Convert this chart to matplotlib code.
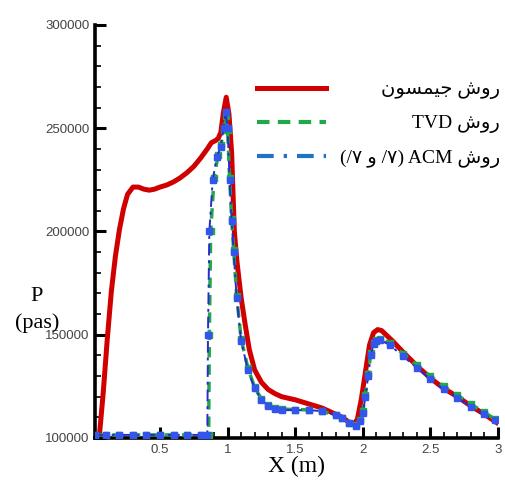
import matplotlib
matplotlib.use('Agg')
import matplotlib.pyplot as plt
from matplotlib.lines import Line2D
from matplotlib.ticker import MultipleLocator, FormatStrFormatter

# Jameson scheme (red)
x_jam = [0.05, 0.08, 0.11, 0.14, 0.17, 0.2, 0.23, 0.26, 0.3, 0.34, 0.38, 0.42,
         0.46, 0.5, 0.55, 0.6, 0.65, 0.7, 0.75, 0.8, 0.85, 0.88, 0.91, 0.93,
         0.95, 0.97, 0.99, 1.01, 1.03, 1.05, 1.07, 1.1, 1.13, 1.16, 1.2, 1.25,
         1.3, 1.35, 1.4, 1.5, 1.6, 1.7, 1.8, 1.85, 1.9, 1.93, 1.96, 1.99, 2.02,
         2.05, 2.08, 2.11, 2.14, 2.18, 2.22, 2.3, 2.4, 2.5, 2.6, 2.7, 2.8, 2.9,
         2.99]
p_jam = [100000, 122000, 148000, 171000, 188000, 201000, 211000, 218000, 221500,
         221500, 220500, 220000, 220500, 221500, 222500, 224000, 226000, 228500,
         231500, 235500, 240000, 243000, 244000, 245000, 248000, 258000, 265000,
         257000, 238000, 200000, 185000, 168000, 155000, 143000, 133000, 127000,
         123500, 121500, 120000, 118500, 116500, 114500, 111500, 110000, 107500,
         106500, 109000, 119000, 132000, 145000, 151000, 152500, 152000, 149500,
         147000, 141500, 135000, 129000, 124000, 120000, 115500, 111500, 107500]

# ACM scheme (blue)
x_acm = [0.02, 0.1, 0.2, 0.3, 0.4, 0.5, 0.6, 0.7, 0.8, 0.85, 0.855, 0.865, 0.89,
         0.92, 0.95, 0.97, 0.985, 1.0, 1.015, 1.03, 1.045, 1.067, 1.1, 1.15, 1.2,
         1.25, 1.3, 1.35, 1.4, 1.5, 1.6, 1.7, 1.8, 1.85, 1.9, 1.95, 1.98, 2.0,
         2.02, 2.04, 2.06, 2.08, 2.1, 2.13, 2.2, 2.3, 2.4, 2.5, 2.6, 2.7, 2.8,
         2.9, 2.98]
p_acm = [101500, 101500, 101500, 101500, 101500, 101500, 101500, 101500, 101500,
         101500, 150000, 200000, 225000, 236000, 241000, 250000, 258000, 250000,
         225000, 205000, 190000, 168000, 147000, 133000, 124000, 118500, 115500,
         114000, 113500, 113500, 113500, 113000, 111000, 109500, 107500, 106000,
         108000, 112000, 120000, 130000, 140000, 145500, 147000, 147500, 145000,
         139500, 134000, 128500, 123500, 119500, 115000, 111500, 108500]

# TVD scheme (green)
x_tvd = [0.02, 0.1, 0.2, 0.3, 0.4, 0.5, 0.6, 0.7, 0.8, 0.86, 0.865, 0.875, 0.9,
         0.93, 0.95, 0.97, 0.985, 1.0, 1.015, 1.03, 1.045, 1.067, 1.1, 1.15, 1.2,
         1.25, 1.3, 1.35, 1.4, 1.5, 1.6, 1.7, 1.8, 1.85, 1.9, 1.95, 1.98, 2.0,
         2.02, 2.04, 2.06, 2.08, 2.1, 2.13, 2.2, 2.3, 2.4, 2.5, 2.6, 2.7, 2.8,
         2.9, 2.98]
p_tvd = [101500, 101500, 101500, 101500, 101500, 101500, 101500, 101500, 101500,
         101500, 150000, 200000, 226000, 237000, 242000, 249000, 256000, 249000,
         226000, 206000, 191000, 169000, 148000, 134000, 124500, 119000, 116000,
         114500, 114000, 113800, 113600, 113000, 111000, 109500, 107500, 106500,
         108500, 113000, 121000, 131000, 141000, 146000, 147500, 148000, 146000,
         140800, 135300, 130000, 125000, 120800, 116300, 112500, 109000]

labels = ['ﻥﻮﺴﻤﯿﺟ ﺵﻭﺭ', 'TVD ﺵﻭﺭ', '(/۷ ﻭ /۷) ACM ﺵﻭﺭ']

fig = plt.figure(figsize=(5.06, 4.8), dpi=100)
ax = fig.add_axes([0.188, 0.0875, 0.796, 0.8605])

ax.plot(x_jam, p_jam, color='#d10000', lw=3.6, solid_joinstyle='round', zorder=2)
ax.plot(x_tvd, p_tvd, color='#22a84a', lw=2.5, dashes=(3, 2), marker='s',
        ms=4.5, zorder=3)
ax.plot(x_acm, p_acm, color='#2a2ad0', lw=1.4, dashes=(6, 2.5, 1.5, 2.5),
        marker='s', ms=5, mfc='#3355ee', mec='#3355ee', zorder=4)

ax.set_xlim(0.02, 3.0)
ax.set_ylim(100000, 300000)

for s in ['top', 'right']:
    ax.spines[s].set_visible(False)
for s in ['left', 'bottom']:
    ax.spines[s].set_linewidth(2.6)

ax.xaxis.set_major_locator(MultipleLocator(0.5))
ax.xaxis.set_minor_locator(MultipleLocator(0.1))
ax.yaxis.set_major_locator(MultipleLocator(50000))
ax.yaxis.set_minor_locator(MultipleLocator(10000))
ax.xaxis.set_major_formatter(FormatStrFormatter('%g'))
ax.yaxis.set_major_formatter(FormatStrFormatter('%d'))
ax.tick_params(which='major', direction='in', length=8, width=2.2,
               labelsize=9.5, labelcolor='#444444', pad=4)
ax.tick_params(which='minor', direction='in', length=4, width=1.2)
for t in ax.get_xticklabels() + ax.get_yticklabels():
    t.set_fontfamily('Liberation Sans')

ax.set_xlabel('X (m)', fontfamily='Liberation Serif', fontsize=17, labelpad=0)
ax.set_ylabel('P\n(pas)', fontfamily='Liberation Serif', fontsize=16,
              rotation=0, ha='center', va='center', linespacing=1.55)
ax.yaxis.set_label_coords(-0.145, 0.31)

handles = [Line2D([], [], color='#d10000', lw=3.6),
           Line2D([], [], color='#22a84a', lw=3, dashes=(3, 2)),
           Line2D([], [], color='#1f72c4', lw=3, dashes=(4, 2.4, 0.8, 2.4))]
leg_size = 14
text_pad = 0.7
leg = ax.legend(handles, labels, loc='upper right', bbox_to_anchor=(1.005, 0.865),
                frameon=False, borderpad=0, borderaxespad=0, labelspacing=0.8,
                handlelength=3.55, handletextpad=text_pad,
                prop={'family': ['Liberation Serif', 'DejaVu Sans'], 'size': leg_size})

# right-align the legend texts while keeping the line samples in one column
fig.canvas.draw()
r = fig.canvas.get_renderer()
widths = [t.get_window_extent(r).width * 72 / fig.dpi for t in leg.get_texts()]
rows = leg._legend_handle_box.get_children()[0].get_children()
for row, w in zip(rows, widths):
    row.sep = text_pad * leg_size + (max(widths) - w)

fig.savefig('out.png', dpi=100)
